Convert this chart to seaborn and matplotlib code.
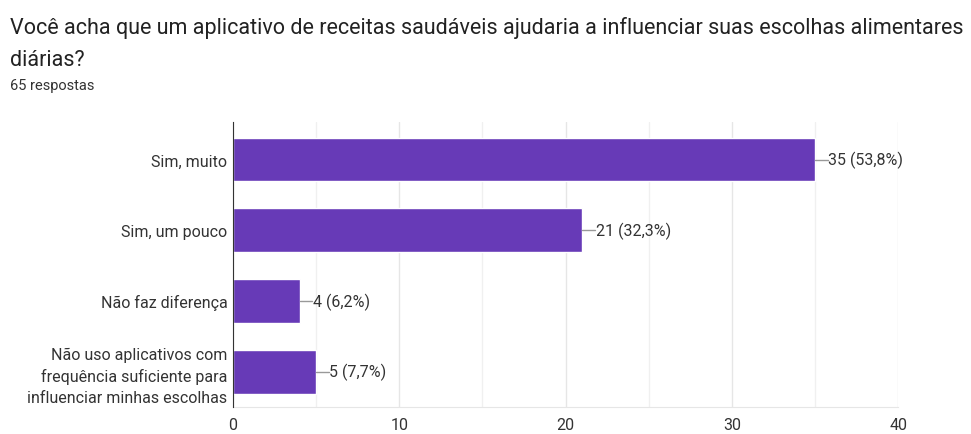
import matplotlib
matplotlib.use("Agg")
import matplotlib.pyplot as plt
import seaborn as sns
import pandas as pd

# dados do grafico
categorias = [
    "Sim, muito",
    "Sim, um pouco",
    "Não faz diferença",
    "Não uso aplicativos com\nfrequência suficiente para\ninfluenciar minhas escolhas",
]
respostas = [35, 21, 4, 5]
rotulos = ["35 (53,8%)", "21 (32,3%)", "4 (6,2%)", "5 (7,7%)"]
ticks_x = [0, 10, 20, 30, 40]

df = pd.DataFrame({"categoria": categorias, "n": respostas})

sns.set_style("white")
plt.rcParams["font.family"] = ["Roboto", "DejaVu Sans"]

fig = plt.figure(figsize=(9.71, 4.35), dpi=100)
ax = fig.add_axes([0.240, 0.062, 0.685, 0.655])

sns.barplot(data=df, x="n", y="categoria", color="#673ab7", width=0.62,
            saturation=1, ax=ax, zorder=3)

ax.set_xlim(0, 40)
ax.set_ylim(3.5, -0.53)
ax.set_xticks(ticks_x)
ax.set_xticks(range(5, 40, 10), minor=True)
ax.grid(axis="x", which="major", color="#e6e6e6", lw=1, zorder=0)
ax.grid(axis="x", which="minor", color="#f0f0f0", lw=1, zorder=0)
ax.tick_params(axis="both", which="both", length=0, labelsize=11.5,
               colors="#333333")
ax.tick_params(axis="x", pad=7)
ax.tick_params(axis="y", pad=4)
for t in ax.get_yticklabels():
    t.set_linespacing(1.45)
ax.set_xlabel("")
ax.set_ylabel("")
for s in ["top", "right"]:
    ax.spines[s].set_visible(False)
ax.spines["bottom"].set_color("#e6e6e6")
ax.spines["left"].set_color("#333333")
ax.spines["left"].set_zorder(5)

for i, (v, r) in enumerate(zip(respostas, rotulos)):
    ax.plot([v, v + 0.75], [i, i], color="#999999", lw=1, zorder=4)
    ax.text(v + 0.8, i, r, va="center", ha="left", fontsize=11.5,
            color="#333333")

fig.text(0.010, 0.935, "Você acha que um aplicativo de receitas saudáveis ajudaria a influenciar suas escolhas alimentares",
         fontsize=15.5, color="#222222", va="center")
fig.text(0.010, 0.862, "diárias?", fontsize=15.5, color="#222222", va="center")
fig.text(0.010, 0.803, "65 respostas", fontsize=10.5, color="#333333", va="center")

fig.savefig("out.png", dpi=100)
